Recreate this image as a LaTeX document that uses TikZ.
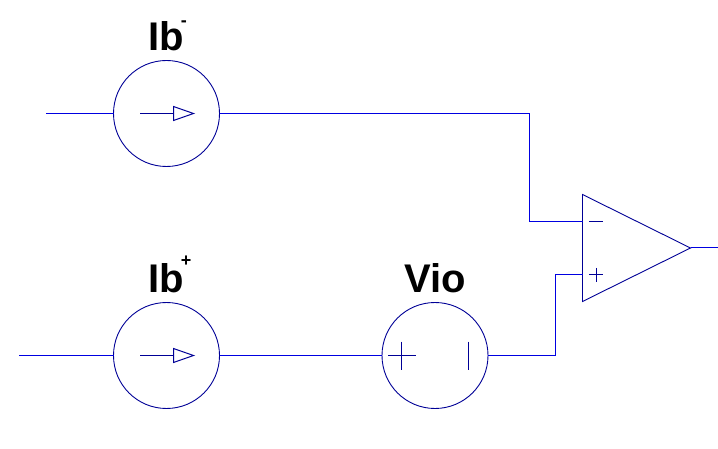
\documentclass[tikz,border=0pt]{standalone}
\usepackage{fontspec}
\setmainfont{Liberation Sans}
\usetikzlibrary{positioning,shapes.geometric}

\newcommand{\signtext}[2]{\rlap{\kern-3.5pt\raisebox{#1}{\fontsize{18pt}{18pt}\selectfont #2}}}

\begin{document}
\begin{tikzpicture}[
  x=1pt, y=-1pt,
  source/.style={draw=symb, circle, minimum size=106pt, inner sep=0pt, outer sep=0pt, line width=0.9pt},
  amp/.style={draw=symb, isosceles triangle, isosceles triangle stretches, minimum width=107pt, minimum height=108pt, inner sep=0pt, outer sep=0pt, line width=0.9pt},
  wire/.style={draw=lead, line width=1pt},
  symbol/.style={draw=symb, line width=1pt},
  lab/.style={font=\bfseries\fontsize{40pt}{40pt}\selectfont, inner sep=0pt}
]
  \definecolor{symb}{RGB}{0,0,150}
  \definecolor{lead}{RGB}{0,0,225}
  \useasboundingbox (0,0) rectangle (718,449);

  \node[source] (ibn) at (166.5,113.5) {};
  \node[source, below=136pt of ibn] (ibp) {};
  \node[source, right=162.5pt of ibp] (vio) {};
  \node[amp, anchor=apex] (opamp) at (690.5,248) {};

  \node[lab, above=9pt of ibn] (ibnlabel) {Ib\signtext{24pt}{-}};
  \node[lab, above=9pt of ibp] (ibplabel) {Ib\signtext{26pt}{+}};
  \node[lab, above=9pt of vio] (violabel) {Vio};

  \coordinate (ibnin) at (46,113.5);
  \coordinate (ibpin) at (19,355.5);
  \coordinate (inn) at (582.5,221.5);
  \coordinate (inp) at (582.5,275);
  \coordinate (out) at (718,248);

  \draw[wire] (ibnin) -- (ibn);
  \draw[wire] (ibpin) -- (ibp);
  \draw[wire] (ibp) -- (vio);
  \draw[wire] (ibn) -| (529.5,221.5) -- (inn);
  \draw[wire] (vio) -| (555.5,275) -- (inp);
  \draw[wire] (opamp.apex) -- (out);

  % source arrows
  \foreach \src in {ibn,ibp} {
    \draw[symbol] (\src.center) ++(-26.5,0) -- ++(33.5,0);
    \draw[symbol] (\src.center) ++(7,-7) -- ++(20,7) -- ++(-20,7) -- cycle;
  }
  \draw[symbol] (vio.center) ++(-47,0) -- ++(28,0);
  \draw[symbol] (vio.center) ++(-34,-14) -- ++(0,28);
  \draw[symbol] (vio.center) ++(33,-14) -- ++(0,28);

  % input signs
  \draw[symbol] (589,221.5) -- (603,221.5);
  \draw[symbol] (589,275) -- (603,275);
  \draw[symbol] (596,268) -- (596,282);
\end{tikzpicture}
\end{document}
